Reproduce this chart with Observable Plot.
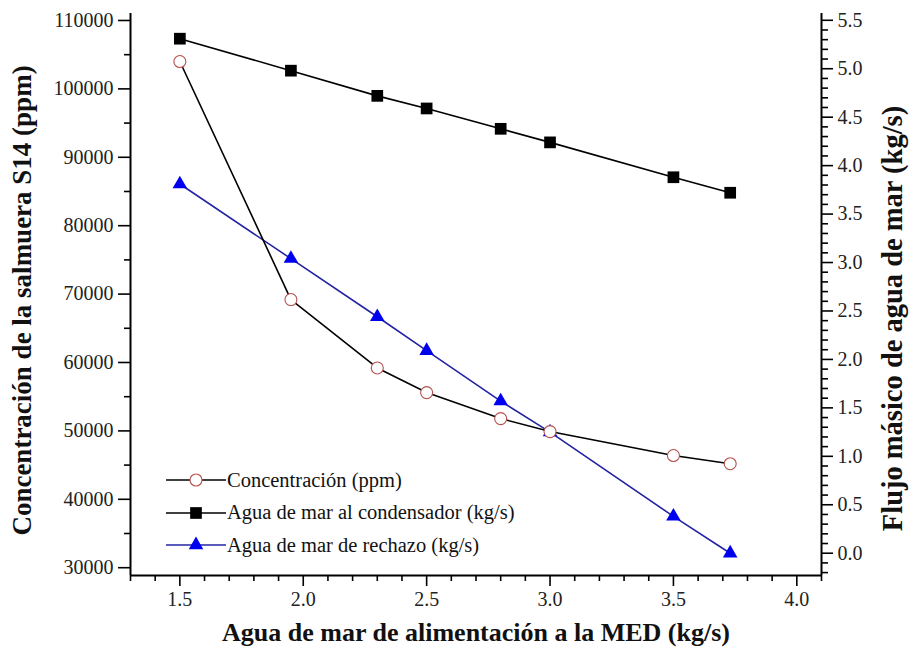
<!DOCTYPE html>
<html><head><meta charset="utf-8">
<script src="https://cdn.jsdelivr.net/npm/d3@7"></script>
<script src="https://cdn.jsdelivr.net/npm/@observablehq/plot@0.6"></script>
<style>
body{margin:0;background:#fff;}
#wrap{position:relative;width:912px;height:658px;}
#legend{position:absolute;left:166px;top:464px;font-family:"Liberation Serif","Times New Roman",Times,"DejaVu Serif",serif;font-size:20.5px;color:#111;}
.row{display:flex;align-items:center;height:32.5px;white-space:nowrap;}
.row svg{display:block;}
</style></head>
<body><div id="wrap"><div id="chart"></div><div id="legend"></div></div>
<script>
// ---- data ----
const xVals = [1.5, 1.95, 2.3, 2.5, 2.8, 3.0, 3.5, 3.73];
const concentracion = [104000, 69200, 59200, 55600, 51800, 49900, 46400, 45200]; // ppm, left axis
const condensador = [5.31, 4.98, 4.72, 4.59, 4.38, 4.24, 3.88, 3.72];          // kg/s, right axis
const rechazo = [3.81, 3.04, 2.44, 2.09, 1.57, 1.25, 0.38, 0.0];               // kg/s, right axis

const xMajor = [1.5, 2.0, 2.5, 3.0, 3.5, 4.0];
const xMinor = d3.range(13, 42).map(v => v / 10).filter(v => Math.round(v * 10) % 5 !== 0);
const leftMajor = d3.range(30000, 110001, 10000);
const leftMinor = d3.range(35000, 105001, 10000);
const rightMajor = d3.range(0, 12).map(i => i * 0.5);
const rightMinor = d3.range(-2, 56).map(v => v / 10).filter(v => Math.round(v * 10) % 5 !== 0);

const seriesNames = ["Concentración (ppm)", "Agua de mar al condensador (kg/s)", "Agua de mar de rechazo (kg/s)"];
const xTitle = "Agua de mar de alimentación a la MED (kg/s)";
const yLeftTitle = "Concentración de la salmuera S14 (ppm)";
const yRightTitle = "Flujo másico de agua de mar (kg/s)";

// ---- scales ----
const xDomain = [1.3, 4.1];
const yDomain = [28860, 111020];
const rDomain = [-0.23, 5.57];
const toLeft = r => yDomain[0] + (r - rDomain[0]) / (rDomain[1] - rDomain[0]) * (yDomain[1] - yDomain[0]);
const fromLeft = l => rDomain[0] + (l - yDomain[0]) / (yDomain[1] - yDomain[0]) * (rDomain[1] - rDomain[0]);

const data = xVals.map((x, i) => ({x, conc: concentracion[i], cond: toLeft(condensador[i]), rech: toLeft(rechazo[i])}));

const font = "'Liberation Serif','Times New Roman',Times,'DejaVu Serif',serif";
const tickFont = 20;
const cCirc = "#b5504c", cTri = "#0000f0", cTriLine = "#2323a3";
const axStyle = {stroke: "black", strokeWidth: 1.6, fill: "#222", label: null};
const blank = () => "";

const chart = Plot.plot({
  width: 912, height: 658,
  marginLeft: 130, marginRight: 91, marginTop: 13, marginBottom: 83,
  style: {fontFamily: font, fontSize: tickFont + "px", color: "#222", background: "white"},
  x: {domain: xDomain, label: null},
  y: {domain: yDomain, label: null},
  marks: [
    Plot.axisX(xMajor, {...axStyle, tickSize: 11, tickPadding: 5, tickFormat: d => d.toFixed(1)}),
    Plot.axisX(xMinor, {...axStyle, tickSize: 6, tickFormat: blank}),
    Plot.axisY(leftMajor, {...axStyle, anchor: "left", tickSize: 12, tickPadding: 5, tickFormat: d => String(d)}),
    Plot.axisY(leftMinor, {...axStyle, anchor: "left", tickSize: 6, tickFormat: blank}),
    Plot.axisY(rightMajor.map(toLeft), {...axStyle, anchor: "right", tickSize: 11, tickPadding: 5, tickFormat: d => Math.abs(fromLeft(d)).toFixed(1)}),
    Plot.axisY(rightMinor.map(toLeft), {...axStyle, anchor: "right", tickSize: 6, tickFormat: blank}),
    Plot.ruleX([xDomain[0], xDomain[1]], {stroke: "black", strokeWidth: 2}),
    Plot.ruleY([yDomain[0]], {stroke: "black", strokeWidth: 2}),
    // series lines
    Plot.line(data, {x: "x", y: "cond", stroke: "black", strokeWidth: 1.6}),
    Plot.line(data, {x: "x", y: "rech", stroke: cTriLine, strokeWidth: 1.6}),
    Plot.line(data, {x: "x", y: "conc", stroke: "black", strokeWidth: 1.6}),
    // markers
    Plot.dot(data, {x: "x", y: "cond", symbol: "square", r: 6.6, fill: "black"}),
    Plot.dot(data, {x: "x", y: "rech", symbol: "triangle", r: 5.4, fill: cTri}),
    Plot.dot(data, {x: "x", y: "conc", symbol: "circle", r: 6, fill: "white", stroke: cCirc, strokeWidth: 1.1}),
    // axis titles
    Plot.text([yLeftTitle], {frameAnchor: "left", textAnchor: "middle", rotate: -90, dx: -108, dy: 6, fontWeight: "bold", fontSize: 27, fill: "#111"}),
    Plot.text([yRightTitle], {frameAnchor: "right", textAnchor: "middle", rotate: -90, dx: 71, dy: 24, fontWeight: "bold", fontSize: 28.5, fill: "#111"}),
    Plot.text([xTitle], {frameAnchor: "bottom", textAnchor: "middle", dy: 65, fontWeight: "bold", fontSize: 26, fill: "#111"})
  ]
});
document.getElementById("chart").appendChild(chart);

// ---- legend (HTML overlay) ----
const legendSpec = [
  {name: seriesNames[0], line: "black", sym: "circle", fill: "white", stroke: cCirc, r: 6},
  {name: seriesNames[1], line: "black", sym: "square", fill: "black", stroke: "none", r: 6.6},
  {name: seriesNames[2], line: cTriLine, sym: "triangle", fill: cTri, stroke: "none", r: 5.4}
];
const symMap = {circle: d3.symbolCircle, square: d3.symbolSquare, triangle: d3.symbolTriangle};
const leg = d3.select("#legend");
legendSpec.forEach(s => {
  const row = leg.append("div").attr("class", "row");
  const svg = row.append("svg").attr("width", 60).attr("height", 22);
  svg.append("line").attr("x1", 0).attr("x2", 60).attr("y1", 11).attr("y2", 11).attr("stroke", s.line).attr("stroke-width", 1.6);
  svg.append("path").attr("transform", "translate(30,11)")
    .attr("d", d3.symbol(symMap[s.sym], Math.PI * s.r * s.r)())
    .attr("fill", s.fill).attr("stroke", s.stroke).attr("stroke-width", 1.1);
  row.append("span").style("margin-left", "1px").text(s.name);
});
</script>
</body></html>
